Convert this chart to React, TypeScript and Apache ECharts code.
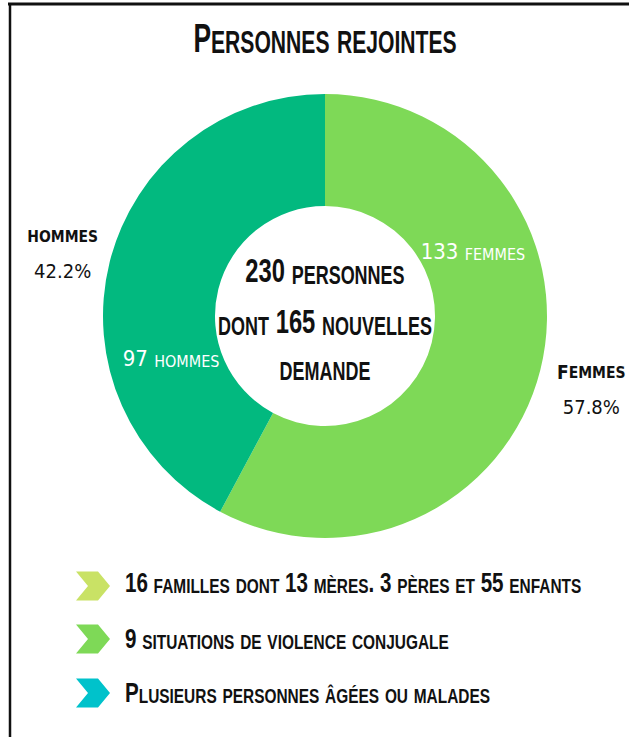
import React, { useEffect, useRef } from "react";
import * as echarts from "echarts";

const TITLE = "Personnes rejointes";
const CATEGORIES = ["Femmes", "hommes"];
const COUNTS = [133, 97];
const SLICE_COLORS = ["#7ED957", "#02B97F"];
const CENTER_LINES = ["230 personnes", "dont 165 nouvelles", "demande"];
const NOTES = [
  "16 familles dont 13 mères. 3 pères et 55 enfants",
  "9 situations de violence conjugale",
  "Plusieurs personnes âgées ou malades",
];
const NOTE_COLORS = ["#C9E265", "#7ED957", "#00C2CB"];

const W = 629;
const H = 737;
const BASE = "'Liberation Sans', Arial, sans-serif";
const NARROW = "'Liberation Sans Narrow', 'DejaVu Sans Condensed', 'Liberation Sans', sans-serif";
const INK = "#111111";

// label nudges (pixels) relative to ECharts' default pie label positions
const INSIDE_SHIFT = [[-16, -106], [10, 84]];
const OUTSIDE_SHIFT = [[11, 11], [-7, -17]];

function sc(text: string, big: string, small: string): string {
  return text.replace(/([a-zà-ÿœ]+)|([^a-zà-ÿœ]+)/g, (_m, lo, other) =>
    lo ? `{${small}|${lo.toUpperCase()}}` : `{${big}|${other}}`
  );
}

function richText(size: number, weight: string, family: string, color: string, extra: any = {}) {
  return { fontSize: size, fontWeight: weight, fontFamily: family, fill: color, verticalAlign: "bottom", ...extra };
}

export default function App() {
  const ref = useRef<HTMLDivElement>(null);
  useEffect(() => {
    if (!ref.current) return;
    const chart = echarts.init(ref.current, null, { renderer: "svg", width: W, height: H });
    const cx = 325;
    const cy = 316;
    const graphics: any[] = [];
    graphics.push({
      type: "line",
      shape: { x1: 8, y1: 4, x2: W, y2: 4 },
      style: { stroke: INK, lineWidth: 3 },
    });
    graphics.push({
      type: "line",
      shape: { x1: 10, y1: 4, x2: 10, y2: H },
      style: { stroke: INK, lineWidth: 2.5 },
    });
    graphics.push({
      type: "text",
      x: cx,
      y: 38,
      scaleX: 0.66,
      style: {
        text: sc(TITLE, "b", "s"),
        textAlign: "center",
        textVerticalAlign: "middle",
        rich: {
          b: richText(40, "bold", BASE, INK),
          s: richText(32, "bold", BASE, INK),
        },
      },
    });
    const centerY = [271, 322, 371];
    CENTER_LINES.forEach((line, i) => {
      graphics.push({
        type: "text",
        x: cx,
        y: centerY[i],
        scaleX: 0.72,
        style: {
          text: sc(line, "b", "s"),
          textAlign: "center",
          textVerticalAlign: "middle",
          rich: {
            b: richText(33, "bold", BASE, INK),
            s: richText(25, "bold", BASE, INK),
          },
        },
      });
    });
    const noteY = [586, 639, 693];
    const noteTextY = [582, 638, 692];
    NOTES.forEach((note, i) => {
      const y = noteY[i];
      graphics.push({
        type: "polygon",
        shape: {
          points: [
            [76, y - 14.5],
            [98, y - 14.5],
            [110, y],
            [98, y + 14.5],
            [76, y + 14.5],
            [88, y],
          ],
        },
        style: { fill: NOTE_COLORS[i] },
      });
      graphics.push({
        type: "text",
        x: 125,
        y: noteTextY[i],
        scaleX: 0.735,
        style: {
          text: sc(note, "b", "s"),
          textAlign: "left",
          textVerticalAlign: "middle",
          rich: {
            b: richText(28, "bold", BASE, INK),
            s: richText(21, "bold", BASE, INK),
          },
        },
      });
    });

    const baseData = CATEGORIES.map((name, i) => ({
      name,
      value: COUNTS[i],
      itemStyle: { color: SLICE_COLORS[i] },
    }));

    chart.setOption({
      animation: false,
      series: [
        {
          type: "pie",
          center: [cx, cy],
          radius: [110, 222],
          startAngle: 90,
          clockwise: true,
          silent: true,
          percentPrecision: 1,
          emphasis: { disabled: true },
          itemStyle: { borderWidth: 0 },
          data: baseData,
          label: {
            show: true,
            position: "inside",
            formatter: (p: any) => sc(`${p.value} ${String(p.name).toLowerCase()}`, "n", "s"),
            rich: {
              n: { fontSize: 22, fontFamily: NARROW, color: "#ffffff", verticalAlign: "bottom" },
              s: { fontSize: 16, fontFamily: NARROW, color: "#ffffff", verticalAlign: "bottom" },
            },
          },
          labelLine: { show: false },
          labelLayout: (p: any) => ({ dx: INSIDE_SHIFT[p.dataIndex][0], dy: INSIDE_SHIFT[p.dataIndex][1] }),
        },
        {
          type: "pie",
          center: [cx, cy],
          radius: [110, 222],
          startAngle: 90,
          clockwise: true,
          silent: true,
          percentPrecision: 1,
          emphasis: { disabled: true },
          itemStyle: { color: "rgba(0,0,0,0)", borderWidth: 0 },
          data: CATEGORIES.map((name, i) => ({ name, value: COUNTS[i] })),
          label: {
            show: true,
            position: "outside",
            width: 70,
            overflow: "none",
            bleedMargin: 0,
            formatter: (p: any) => `${sc(String(p.name), "nb", "ns")}\n{p|${p.percent}%}`,
            rich: {
              nb: { fontSize: 19, fontWeight: "bold", fontFamily: NARROW, color: INK, align: "center", lineHeight: 36, verticalAlign: "bottom" },
              ns: { fontSize: 15.5, fontWeight: "bold", fontFamily: NARROW, color: INK, align: "center", lineHeight: 36, verticalAlign: "bottom" },
              p: { fontSize: 20, fontFamily: NARROW, color: INK, align: "center", lineHeight: 36, verticalAlign: "bottom" },
            },
          },
          labelLine: { show: false, length: 0, length2: 0 },
          labelLayout: (p: any) => ({ dx: OUTSIDE_SHIFT[p.dataIndex][0], dy: OUTSIDE_SHIFT[p.dataIndex][1] }),
        },
      ],
      graphic: graphics,
    });
    return () => chart.dispose();
  }, []);
  return (
    <div
      ref={ref}
      style={{ position: "absolute", left: 0, top: 0, width: W, height: H, background: "#ffffff" }}
    />
  );
}
